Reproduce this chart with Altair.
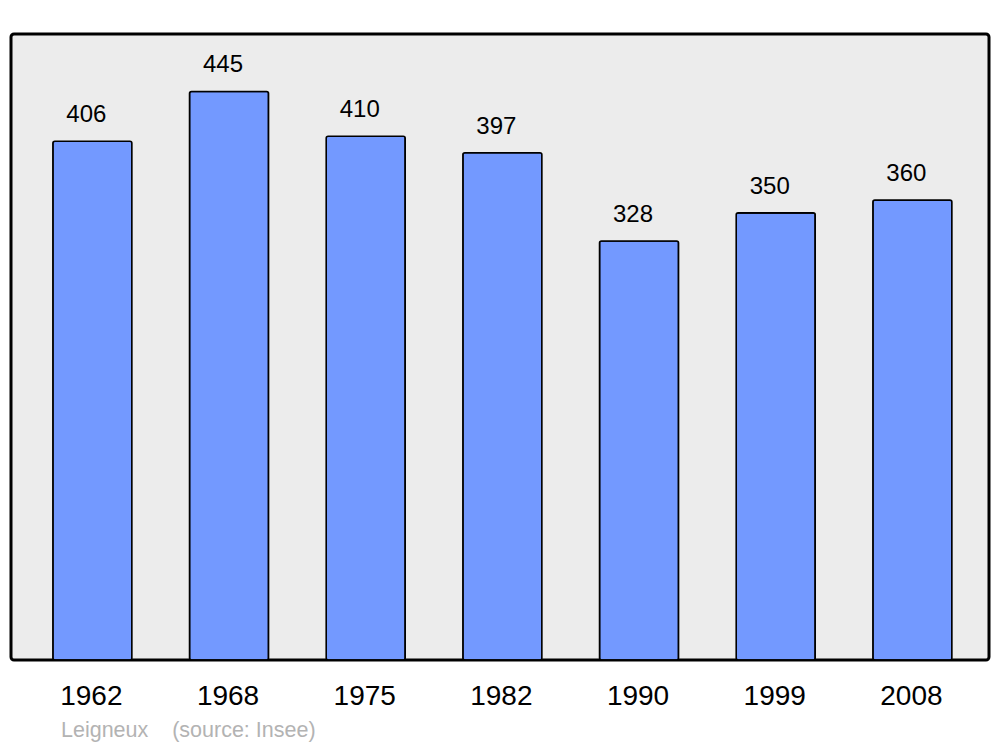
import altair as alt
import pandas as pd

years = ["1962", "1968", "1975", "1982", "1990", "1999", "2008"]
population = [406, 445, 410, 397, 328, 350, 360]
source_text = "Leigneux\u00a0\u00a0\u00a0\u00a0(source: Insee)"

df = pd.DataFrame({"year": years, "pop": population})

x = alt.X(
    "year:N",
    sort=years,
    scale=alt.Scale(paddingInner=0.422, paddingOuter=0.289, align=0.53),
    axis=alt.Axis(
        title=None, domain=False, ticks=False, labelAngle=0,
        labelFontSize=28, labelColor="black", labelFont="Liberation Sans",
        labelPadding=22, labelOffset=-1,
    ),
)
y = alt.Y("pop:Q", scale=alt.Scale(domain=[0, 490], nice=False), axis=None)

bars = alt.Chart(df).mark_bar(
    color="#7399ff", stroke="black", strokeWidth=1.6, cornerRadius=2
).encode(x=x, y=y)

labels = alt.Chart(df).mark_text(
    fontSize=24, font="Liberation Sans", color="black", baseline="middle",
    dy=-26, dx=-6,
).encode(x=x, y=y, text="pop:Q")

chart = (
    alt.layer(bars, labels)
    .properties(
        width=978,
        height=626,
        padding={"left": 3, "top": 26, "right": 3, "bottom": 85},
        autosize=alt.AutoSizeParams(type="none"),
        background="white",
        title=alt.TitleParams(
            source_text, orient="bottom", anchor="start", dx=50, offset=10,
            fontSize=21.5, font="Liberation Sans", fontWeight="normal", color="#b3b3b3",
        ),
    )
    .configure_view(fill="#ececec", stroke="black", strokeWidth=3, cornerRadius=3)
)

chart.save("out.html", embed_options={"renderer": "svg", "actions": False})
